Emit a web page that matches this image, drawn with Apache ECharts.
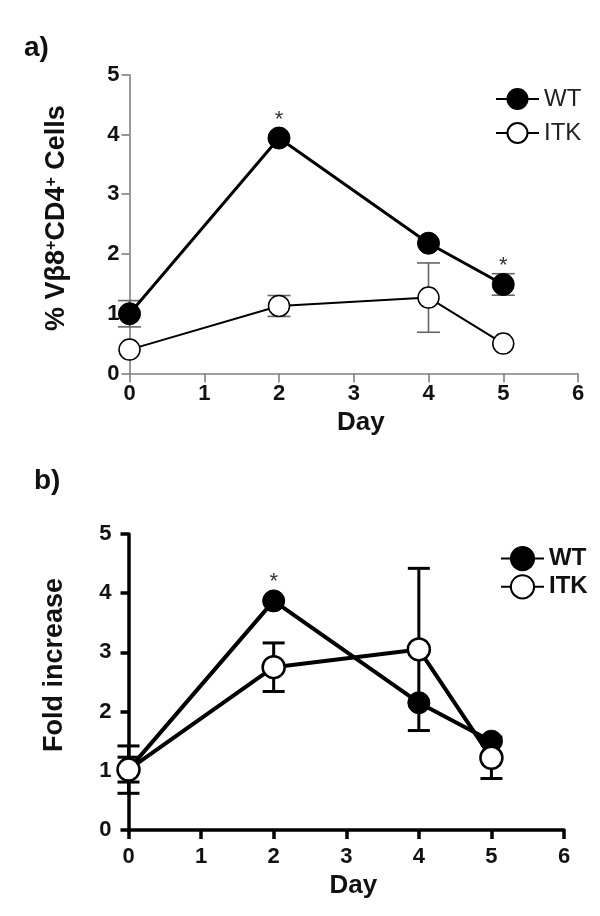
<!DOCTYPE html>
<html>
<head>
<meta charset="utf-8">
<script src="https://cdn.jsdelivr.net/npm/echarts@6/dist/echarts.min.js"></script>
<style>
html,body{margin:0;padding:0;background:#fff;}
#main{width:600px;height:916px;}
</style>
</head>
<body>
<div id="main"></div>
<script>
// ---- data ----
const days = [0, 2, 4, 5];
const xTicks = [0, 1, 2, 3, 4, 5, 6];
const yTicks = [0, 1, 2, 3, 4, 5];

// panel a: % Vb8+CD4+ cells
const aWT = [1.00, 3.94, 2.18, 1.49];
const aWTerr = [0.22, 0, 0, 0.18];
const aITK = [0.40, 1.13, 1.27, 0.50];
const aITKerr = [0, 0.175, 0.58, 0];
const aStar = ['', '*', '', '*'];

// panel b: fold increase
const bWT = [1.02, 3.87, 2.15, 1.50];
const bWTerr = [0.40, 0, 0, 0];
const bITK = [1.02, 2.75, 3.05, 1.22];
const bITKerr = [0.21, 0.41, 1.37, 0.35];
const bStar = ['', '*', '', ''];

const FONT = "'Liberation Sans', Arial, sans-serif";

function pairs(xs, ys) { return xs.map((x, i) => [x, ys[i]]); }
function triples(xs, ys, es) { return xs.map((x, i) => [x, ys[i], es[i]]); }

function errRenderer(color, lw, capW) {
  return function (params, api) {
    const x = api.value(0), y = api.value(1), e = api.value(2);
    if (!e) return null;
    const hi = api.coord([x, y + e]);
    const lo = api.coord([x, y - e]);
    const hw = capW / 2;
    const st = { stroke: color, lineWidth: lw };
    return {
      type: 'group',
      children: [
        { type: 'line', shape: { x1: hi[0], y1: hi[1], x2: lo[0], y2: lo[1] }, style: st },
        { type: 'line', shape: { x1: hi[0] - hw, y1: hi[1], x2: hi[0] + hw, y2: hi[1] }, style: st },
        { type: 'line', shape: { x1: lo[0] - hw, y1: lo[1], x2: lo[0] + hw, y2: lo[1] }, style: st }
      ]
    };
  };
}

function makeX(gridIndex, col, lw, fs, margin, nameGap) {
  return {
    type: 'value', gridIndex: gridIndex, min: xTicks[0], max: xTicks[xTicks.length - 1], interval: 1,
    name: 'Day', nameLocation: 'middle', nameGap: nameGap,
    nameTextStyle: { fontFamily: FONT, fontWeight: 'bold', fontSize: 26, color: '#111', padding: [0, 0, 0, 14] },
    axisLine: { show: true, lineStyle: { color: col, width: lw } },
    axisTick: { show: true, length: 9, lineStyle: { color: col, width: lw } },
    axisLabel: { fontFamily: FONT, fontWeight: 'bold', fontSize: fs, color: '#111', margin: margin },
    splitLine: { show: false }
  };
}
function makeY(gridIndex, col, lw, fs, margin, name, nameGap, rich, pad) {
  return {
    type: 'value', gridIndex: gridIndex, min: yTicks[0], max: yTicks[yTicks.length - 1], interval: 1,
    name: name, nameLocation: 'middle', nameGap: nameGap, nameRotate: 90,
    nameTextStyle: { fontFamily: FONT, fontWeight: 'bold', fontSize: 27, color: '#111', rich: rich, padding: pad },
    axisLine: { show: true, lineStyle: { color: col, width: lw } },
    axisTick: { show: true, length: 8, lineStyle: { color: col, width: lw } },
    axisLabel: { fontFamily: FONT, fontWeight: 'bold', fontSize: fs, color: '#111', margin: margin },
    splitLine: { show: false }
  };
}

const starLabel = (arr, dist) => ({
  show: true, position: 'top', distance: dist,
  formatter: p => arr[p.dataIndex],
  fontFamily: FONT, fontSize: 22, color: '#333'
});

const chart = echarts.init(document.getElementById('main'), null, { renderer: 'canvas' });
chart.setOption({
  animation: false,
  backgroundColor: '#fff',
  title: [
    { text: 'a)', left: 19, top: 29, textStyle: { fontFamily: FONT, fontWeight: 'bold', fontSize: 28, color: '#111' } },
    { text: 'b)', left: 29, top: 462, textStyle: { fontFamily: FONT, fontWeight: 'bold', fontSize: 28, color: '#111' } }
  ],
  legend: [
    {
      data: ['WT', 'ITK'], orient: 'vertical', left: 490, top: 82, itemWidth: 43, itemHeight: 25, itemGap: 10,
      textStyle: { fontFamily: FONT, fontSize: 24, color: '#222' },
      selectedMode: false
    },
    {
      data: ['WT_b', 'ITK_b'], orient: 'vertical', left: 495, top: 541, itemWidth: 43, itemHeight: 29, itemGap: 3,
      formatter: n => n.replace('_b', ''),
      textStyle: { fontFamily: FONT, fontWeight: 'bold', fontSize: 24, color: '#111' },
      selectedMode: false
    }
  ],
  grid: [
    { left: 129.5, top: 74.7, width: 448.5, height: 298.8, containLabel: false },
    { left: 128.5, top: 534, width: 435.5, height: 296, containLabel: false }
  ],
  xAxis: [
    makeX(0, '#808080', 1.6, 22, 9, 36),
    makeX(1, '#000', 3.5, 22, 16, 43)
  ],
  yAxis: [
    makeY(0, '#808080', 1.6, 22, 10, '% Vβ8{s|+}CD4{s|+} Cells', 59,
      { s: { fontSize: 16, fontWeight: 'bold', fontFamily: FONT, verticalAlign: 'top', padding: [0, 0, 10, 0] } }, [0, 0, 0, 12]),
    makeY(1, '#000', 3.5, 22, 17, 'Fold increase', 60, null, [0, 0, 0, 34])
  ],
  series: [
    // panel a
    { type: 'custom', name: 'errA_WT', xAxisIndex: 0, yAxisIndex: 0, z: 1,
      renderItem: errRenderer('#666', 1.6, 23), data: triples(days, aWT, aWTerr), encode: { x: 0, y: 1 } },
    { type: 'custom', name: 'errA_ITK', xAxisIndex: 0, yAxisIndex: 0, z: 1,
      renderItem: errRenderer('#666', 1.6, 23), data: triples(days, aITK, aITKerr), encode: { x: 0, y: 1 } },
    { type: 'line', name: 'WT', xAxisIndex: 0, yAxisIndex: 0, z: 3,
      data: pairs(days, aWT), symbol: 'circle', symbolSize: 22,
      lineStyle: { color: '#000', width: 3 }, itemStyle: { color: '#000', borderColor: '#000', borderWidth: 1 },
      label: starLabel(aStar, -4) },
    { type: 'line', name: 'ITK', xAxisIndex: 0, yAxisIndex: 0, z: 4,
      data: pairs(days, aITK), symbol: 'circle', symbolSize: 21,
      lineStyle: { color: '#000', width: 2 }, itemStyle: { color: '#fff', borderColor: '#000', borderWidth: 1.5 } },
    // panel b
    { type: 'custom', name: 'errB_WT', xAxisIndex: 1, yAxisIndex: 1, z: 1,
      renderItem: errRenderer('#000', 3, 22), data: triples(days, bWT, bWTerr), encode: { x: 0, y: 1 } },
    { type: 'custom', name: 'errB_ITK', xAxisIndex: 1, yAxisIndex: 1, z: 1,
      renderItem: errRenderer('#000', 3, 22), data: triples(days, bITK, bITKerr), encode: { x: 0, y: 1 } },
    { type: 'line', name: 'WT_b', xAxisIndex: 1, yAxisIndex: 1, z: 3,
      data: pairs(days, bWT), symbol: 'circle', symbolSize: 22,
      lineStyle: { color: '#000', width: 4 }, itemStyle: { color: '#000', borderColor: '#000', borderWidth: 1 },
      label: starLabel(bStar, -4) },
    { type: 'line', name: 'ITK_b', xAxisIndex: 1, yAxisIndex: 1, z: 4,
      data: pairs(days, bITK), symbol: 'circle', symbolSize: 22,
      lineStyle: { color: '#000', width: 4 }, itemStyle: { color: '#fff', borderColor: '#000', borderWidth: 2.5 } }
  ]
});
</script>
</body>
</html>
